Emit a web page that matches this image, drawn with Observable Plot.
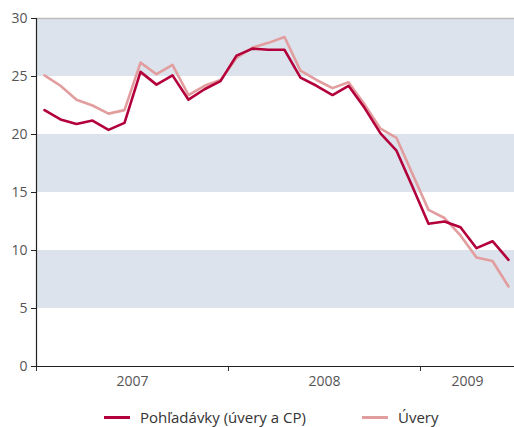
<!DOCTYPE html>
<html>
<head>
<meta charset="utf-8">
<script src="https://cdn.jsdelivr.net/npm/d3@7"></script>
<script src="https://cdn.jsdelivr.net/npm/@observablehq/plot@0.6"></script>
<style>
  html, body { margin: 0; padding: 0; background: #fff; }
  body { width: 514px; font-family: "Open Sans", sans-serif; }
  #chart svg { display: block; }
  #legend { position: relative; height: 32px; font-size: 15px; color: #333; white-space: nowrap; }
  .item { position: absolute; top: 12px; display: flex; align-items: center; white-space: nowrap; }
  .swatch { width: 26px; height: 3px; margin-right: 10px; }
</style>
</head>
<body>
<div id="chart"></div>
<div id="legend"></div>
<script>
// Monthly values, January 2007 – June 2009
const months = d3.range(30).map(i => new Date(2007, i, 1));
const pohladavky = [
  22.1, 21.3, 20.9, 21.2, 20.4, 21.0, 25.4, 24.3, 25.1, 23.0, 23.9, 24.6,
  26.8, 27.4, 27.3, 27.3, 24.9, 24.2, 23.4, 24.2, 22.3, 20.1, 18.6, 15.5,
  12.3, 12.5, 12.0, 10.2, 10.8, 9.2
];
const uvery = [
  25.1, 24.2, 23.0, 22.5, 21.8, 22.1, 26.2, 25.2, 26.0, 23.4, 24.2, 24.7,
  26.6, 27.5, 27.9, 28.4, 25.5, 24.7, 24.0, 24.5, 22.6, 20.5, 19.7, 16.6,
  13.5, 12.8, 11.3, 9.4, 9.1, 6.9
];
const seriesNames = ["Pohľadávky (úvery a CP)", "Úvery"];
const seriesColors = ["#b3003b", "#e29d9e"];
const yearLabels = ["2007", "2008", "2009"];
const yTicks = [0, 5, 10, 15, 20, 25, 30];
const bands = [[5, 10], [15, 20], [25, 30]];

// month index scale: each point sits in the middle of its month
const xMax = 29.875;
const rows = [
  ...months.map((m, i) => ({i: i + 0.5, v: pohladavky[i], s: seriesNames[0]})),
  ...months.map((m, i) => ({i: i + 0.5, v: uvery[i], s: seriesNames[1]}))
];
// year boundaries and label positions (centre of each year's visible span)
const yearStarts = yearLabels.map(y => months.findIndex(m => m.getFullYear() === +y));
const yearMids = yearLabels.map((y, k) => {
  const a = yearStarts[k];
  const b = k + 1 < yearStarts.length ? yearStarts[k + 1] : xMax;
  return (a + b) / 2;
});

const chart = Plot.plot({
  width: 514,
  height: 395,
  marginTop: 18,
  marginBottom: 29,
  marginLeft: 36,
  marginRight: 0,
  style: {fontFamily: "Open Sans, sans-serif", fontSize: "14px", color: "#555"},
  x: {domain: [0, xMax], axis: null},
  y: {domain: [0, 30], axis: null},
  color: {domain: seriesNames, range: seriesColors},
  marks: [
    Plot.rect(bands, {x1: 0, x2: xMax, y1: d => d[0], y2: d => d[1], fill: "#dde3ed"}),
    Plot.ruleY([30], {stroke: "#bdbdbd", strokeWidth: 1.5}),
    Plot.axisY({ticks: yTicks, label: null, tickSize: 5, tickPadding: 4, stroke: "#222", fill: "#555", fontSize: 14}),
    Plot.axisX({ticks: yearStarts, label: null, tickSize: 5, tickFormat: () => "", stroke: "#333"}),
    Plot.axisX({ticks: yearMids, label: null, tickSize: 0, tickPadding: 10, tickFormat: (d, k) => yearLabels[k], fill: "#555", fontSize: 14}),
    Plot.ruleX([0], {stroke: "#222", strokeWidth: 1.2}),
    Plot.ruleY([0], {stroke: "#222", strokeWidth: 1.2}),
    Plot.line(rows.filter(r => r.s === seriesNames[1]), {x: "i", y: "v", stroke: "s", strokeWidth: 2.6}),
    Plot.line(rows.filter(r => r.s === seriesNames[0]), {x: "i", y: "v", stroke: "s", strokeWidth: 2.6})
  ]
});
document.getElementById("chart").appendChild(chart);

// legend: line swatch + label for each series
const legend = document.getElementById("legend");
const legendLeft = [104, 362];
seriesNames.forEach((name, k) => {
  const item = document.createElement("div");
  item.className = "item";
  item.style.left = legendLeft[k] + "px";
  const sw = document.createElement("span");
  sw.className = "swatch";
  sw.style.background = seriesColors[k];
  const label = document.createElement("span");
  label.textContent = name;
  item.append(sw, label);
  legend.appendChild(item);
});
</script>
</body>
</html>
